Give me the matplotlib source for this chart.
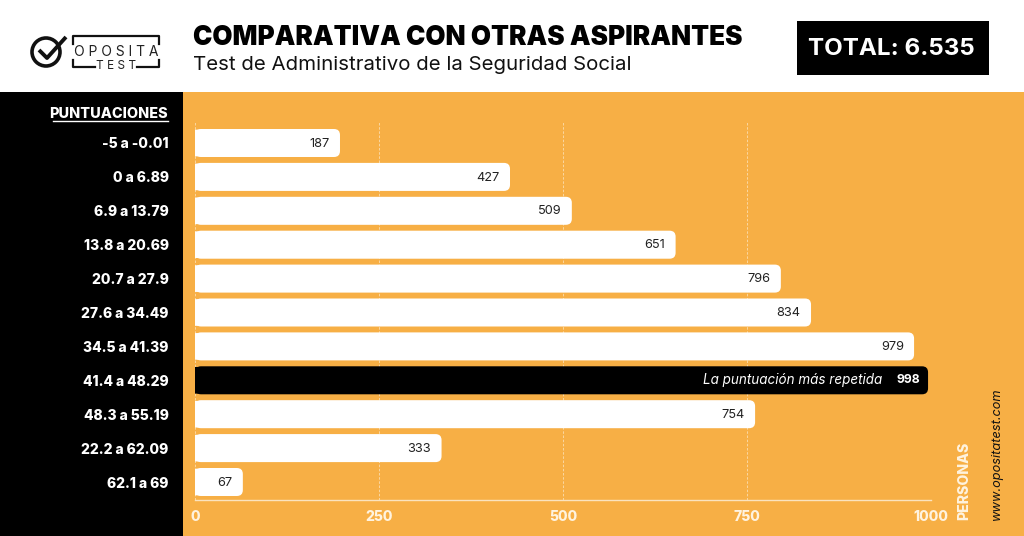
import matplotlib
matplotlib.use("Agg")
import matplotlib.pyplot as plt
from matplotlib.patches import Rectangle, FancyBboxPatch, Circle

plt.rcParams['font.family'] = ['Inter', 'DejaVu Sans']

puntuaciones = ['-5 a -0.01', '0 a 6.89', '6.9 a 13.79', '13.8 a 20.69', '20.7 a 27.9', '27.6 a 34.49',
                '34.5 a 41.39', '41.4 a 48.29', '48.3 a 55.19', '22.2 a 62.09', '62.1 a 69']
personas = [187, 427, 509, 651, 796, 834, 979, 998, 754, 333, 67]
# the bars in the picture do not end exactly on their printed number
largo_barra = [197, 428, 512, 653, 796, 837, 977, 996, 761, 335, 65]
xticks = [0, 250, 500, 750, 1000]

NARANJA = '#F7AF45'
W, H = 1024, 536

fig = plt.figure(figsize=(W / 100, H / 100), dpi=100, facecolor='white')

# background layer in pixels (panels, header, logo)
bg = fig.add_axes([0, 0, 1, 1])
bg.set_xlim(0, W)
bg.set_ylim(H, 0)
bg.axis('off')
bg.add_patch(Rectangle((183, 92), W - 183, H - 92, color=NARANJA, lw=0))
bg.add_patch(Rectangle((0, 92), 183, H - 92, color='black', lw=0))
bg.add_patch(Rectangle((797, 21), 192, 54, color='black', lw=0))

bg.text(193, 38, 'COMPARATIVA CON OTRAS ASPIRANTES', fontsize=18.8, fontweight='black', va='center', color='black')
bg.text(193, 65, 'Test de Administrativo de la Seguridad Social', fontsize=14.7, va='center', color='#111111')
bg.text(891, 49, 'TOTAL: 6.535', fontsize=17.4, fontweight='bold', va='center', ha='center', color='white')

# logo
bg.add_patch(Circle((46, 52), 14, fill=False, ec='#111111', lw=2.6))
bg.plot([39, 47, 66], [50, 58, 37], color='#111111', lw=2.8, solid_capstyle='butt')
bg.plot([73, 73, 159, 159], [44, 36, 36, 44], color='#111111', lw=1.6)
bg.plot([73, 73, 95], [60, 67, 67], color='#111111', lw=1.6)
bg.plot([137, 159, 159], [67, 67, 60], color='#111111', lw=1.6)
bg.text(116, 52, 'O P O S I T A', fontsize=10, ha='center', va='center', color='#222222')
bg.text(116, 66, 'T E S T', fontsize=8.5, ha='center', va='center', color='#222222')

# chart
ax = fig.add_axes([195 / W, 1 - 500 / H, (931 - 195) / W, (500 - 122) / H])
ax.patch.set_alpha(0)
ax.set_xlim(0, 1000)
# one row is 33.9 px, first row centred at y=143 px
ax.set_ylim((500 - 143) / 33.9, -(143 - 122) / 33.9)

r_x = 6 / 0.736
r_y = 6 / 33.9
alto = 28 / 33.9
for i, (p, l) in enumerate(zip(personas, largo_barra)):
    color = 'black' if p == max(personas) else 'white'
    # slightly thinner square piece so its edges don't show over the rounded one
    ax.barh(i, l - 20, height=alto - 0.04, color=color, lw=0, zorder=3, snap=False)
    ax.add_patch(FancyBboxPatch((0, i - alto / 2), l, alto, boxstyle=f'round,pad=0,rounding_size={r_x}',
                                mutation_aspect=r_y / r_x, fc=color, ec='none', zorder=3, snap=False))
    if color == 'white':
        ax.text(l - 14, i + 0.02, str(p), ha='right', va='center', fontsize=9.2, color='#222222', zorder=4)
    else:
        ax.text(l - 11, i, str(p), ha='right', va='center', fontsize=8.8, fontweight='bold', color='white', zorder=4)
        ax.text(l - 62, i, 'La puntuación más repetida', ha='right', va='center', fontsize=9.7,
                fontstyle='italic', color='white', zorder=4)

for s in ['top', 'right', 'left']:
    ax.spines[s].set_visible(False)
ax.spines['bottom'].set_color('#FBE3BE')
ax.spines['bottom'].set_linewidth(1)

ax.xaxis.grid(True, color='#FBDDAF', ls=(0, (3, 2)), lw=0.6, zorder=1)
ax.set_axisbelow(True)
ax.set_xticks(xticks)
ax.set_xticklabels([str(t) for t in xticks], fontsize=10, fontweight='heavy', color='#FFF3DF')
ax.tick_params(axis='x', length=0, pad=7)
ax.set_yticks(range(len(puntuaciones)))
ax.set_yticklabels(puntuaciones, fontsize=10, fontweight='heavy', color='white')
ax.tick_params(axis='y', length=0, pad=19)

bg.text(168, 114, 'PUNTUACIONES', fontsize=10.4, fontweight='heavy', color='white', ha='right', va='center')
bg.plot([53, 168], [121, 121], color='white', lw=1)
bg.text(964, 520, 'PERSONAS', fontsize=10.2, fontweight='heavy', color='#FFF3DF', rotation=90, ha='center', va='bottom')
bg.text(997, 520, 'www.opositatest.com', fontsize=9.2, fontstyle='italic', color='#111111', rotation=90, ha='center', va='bottom')

fig.savefig('out.png', dpi=100)
